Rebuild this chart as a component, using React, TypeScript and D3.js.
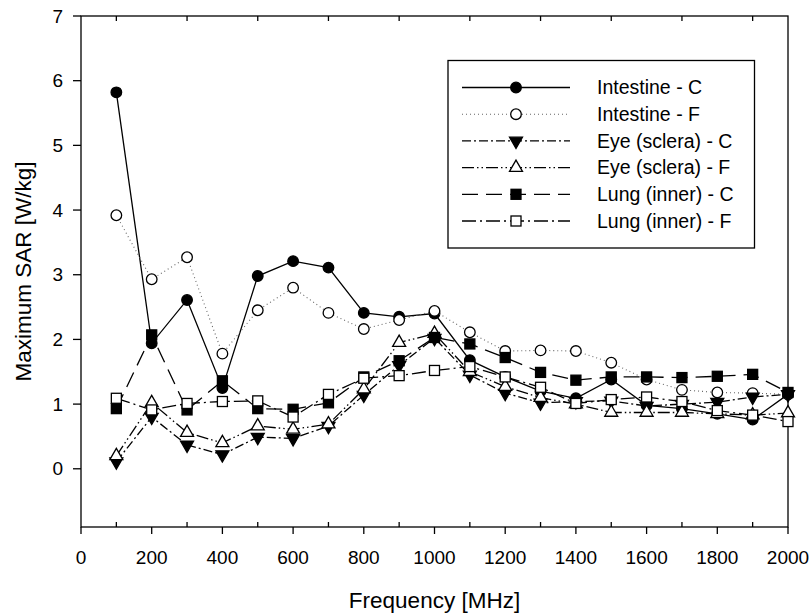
import React from "react";
import * as d3 from "d3";

const freqs = [100, 200, 300, 400, 500, 600, 700, 800, 900, 1000, 1100, 1200, 1300, 1400, 1500, 1600, 1700, 1800, 1900, 2000];

const intestineC = [5.82, 1.94, 2.61, 1.25, 2.98, 3.21, 3.11, 2.41, 2.35, 2.40, 1.68, 1.42, 1.20, 1.09, 1.38, 0.98, 0.93, 0.85, 0.76, 1.15];
const intestineF = [3.92, 2.93, 3.27, 1.78, 2.45, 2.80, 2.41, 2.16, 2.30, 2.44, 2.11, 1.82, 1.83, 1.82, 1.64, 1.38, 1.22, 1.18, 1.17, 1.15];
const eyeC = [0.11, 0.80, 0.37, 0.22, 0.49, 0.47, 0.66, 1.14, 1.60, 2.02, 1.45, 1.17, 1.02, 1.04, 1.05, 0.97, 1.00, 1.03, 1.11, 1.15];
const eyeF = [0.20, 1.02, 0.56, 0.40, 0.66, 0.61, 0.69, 1.23, 1.95, 2.09, 1.50, 1.27, 1.10, 1.00, 0.87, 0.87, 0.87, 0.85, 0.83, 0.86];
const lungC = [0.93, 2.07, 0.91, 1.36, 0.93, 0.92, 1.02, 1.42, 1.67, 2.03, 1.93, 1.72, 1.49, 1.37, 1.42, 1.42, 1.41, 1.43, 1.46, 1.18];
const lungF = [1.09, 0.91, 1.01, 1.04, 1.05, 0.80, 1.15, 1.40, 1.44, 1.52, 1.58, 1.42, 1.26, 1.01, 1.07, 1.11, 1.04, 0.90, 0.83, 0.73];

const seriesNames = ["Intestine - C", "Intestine - F", "Eye (sclera) - C", "Eye (sclera) - F", "Lung (inner) - C", "Lung (inner) - F"];
const seriesValues = [intestineC, intestineF, eyeC, eyeF, lungC, lungF];

const xTicks = [0, 200, 400, 600, 800, 1000, 1200, 1400, 1600, 1800, 2000];
const xMinorTicks = [100, 300, 500, 700, 900, 1100, 1300, 1500, 1700, 1900];
const yTicks = [0, 1, 2, 3, 4, 5, 6, 7];

const styles = [
  { dash: null, width: 1.3, color: "#000", marker: "circle", fill: "#000" },
  { dash: "1,3", width: 1.1, color: "#666", marker: "circle", fill: "#fff" },
  { dash: "9,3,2,3", width: 1.3, color: "#000", marker: "triDown", fill: "#000" },
  { dash: "12,3,1.5,3,1.5,3", width: 1.3, color: "#000", marker: "triUp", fill: "#fff" },
  { dash: "16,8", width: 1.3, color: "#000", marker: "square", fill: "#000" },
  { dash: "14,4,2,4", width: 1.3, color: "#000", marker: "square", fill: "#fff" },
];

const FONT = "Arial, 'Liberation Sans', sans-serif";

function Marker({ type, x, y, fill }: { type: string; x: number; y: number; fill: string }) {
  const sw = 1.3;
  if (type === "circle") return <circle cx={x} cy={y} r={5.3} fill={fill} stroke="#000" strokeWidth={sw} />;
  if (type === "square") return <rect x={x - 5} y={y - 5} width={10} height={10} fill={fill} stroke="#000" strokeWidth={sw} />;
  const s = 6.2;
  const sym = d3.symbol().type(d3.symbolTriangle).size(s * s * 1.9)();
  if (type === "triUp")
    return <path d={sym || ""} transform={`translate(${x},${y})`} fill={fill} stroke="#000" strokeWidth={sw} />;
  return <path d={sym || ""} transform={`translate(${x},${y}) rotate(180)`} fill={fill} stroke="#000" strokeWidth={sw} />;
}

export default function App() {
  const W = 811, H = 616;
  const left = 81, right = 788, top = 16, bottom = 527;
  const x = d3.scaleLinear().domain([0, 2000]).range([left, right]);
  const y = d3.scaleLinear().domain([-0.9, 7]).range([bottom, top]);
  const line = d3.line<number>().x((_, i) => x(freqs[i])).y((v) => y(v));

  const legX = 448, legY = 60.5, legW = 306.5, legH = 187.5;
  const rowY0 = 87.5, rowDy = 26.7;

  return (
    <svg width={W} height={H} style={{ position: "absolute", left: 0, top: 0, background: "#fff" }} fontFamily={FONT}>
      <rect x={0} y={0} width={W} height={H} fill="#fff" />
      {/* frame */}
      <rect x={left} y={top} width={right - left} height={bottom - top} fill="none" stroke="#000" strokeWidth={1.3} />
      {/* y ticks */}
      {yTicks.map((t) => (
        <g key={"y" + t}>
          <line x1={left - 8} x2={left} y1={y(t)} y2={y(t)} stroke="#000" strokeWidth={1.3} />
          <text x={left - 18} y={y(t)} dy="0.35em" textAnchor="end" fontSize={19}>{t}</text>
        </g>
      ))}
      {/* x ticks */}
      {xTicks.map((t) => (
        <g key={"x" + t}>
          <line x1={x(t)} x2={x(t)} y1={bottom} y2={bottom + 7} stroke="#000" strokeWidth={1.3} />
          <text x={x(t)} y={564} textAnchor="middle" fontSize={19}>{t}</text>
        </g>
      ))}
      {xMinorTicks.map((t) => (
        <g key={"xm" + t}>
          <line x1={x(t)} x2={x(t)} y1={bottom} y2={bottom - 5} stroke="#000" strokeWidth={1.3} />
          <line x1={x(t)} x2={x(t)} y1={top} y2={top + 5} stroke="#000" strokeWidth={1.3} />
        </g>
      ))}
      {/* titles */}
      <text x={(left + right) / 2} y={608} textAnchor="middle" fontSize={22.5}>Frequency [MHz]</text>
      <text transform={`translate(31,${(top + bottom) / 2}) rotate(-90)`} textAnchor="middle" fontSize={22.5}>Maximum SAR [W/kg]</text>

      {/* series */}
      {seriesValues.map((vals, si) => {
        const st = styles[si];
        return (
          <g key={"s" + si}>
            <path d={line(vals) || ""} fill="none" stroke={st.color} strokeWidth={st.width} strokeDasharray={st.dash || undefined} />
            {vals.map((v, i) => (
              <Marker key={i} type={st.marker} x={x(freqs[i])} y={y(v)} fill={st.fill} />
            ))}
          </g>
        );
      })}

      {/* legend */}
      <rect x={legX} y={legY} width={legW} height={legH} fill="#fff" stroke="#000" strokeWidth={1.3} />
      {seriesNames.map((name, i) => {
        const st = styles[i];
        const ry = rowY0 + i * rowDy;
        return (
          <g key={"l" + i}>
            <line x1={462} x2={570} y1={ry} y2={ry} stroke={st.color} strokeWidth={st.width} strokeDasharray={st.dash || undefined} />
            <Marker type={st.marker} x={516} y={ry} fill={st.fill} />
            <text x={597} y={ry} dy="0.35em" fontSize={19.5}>{name}</text>
          </g>
        );
      })}
    </svg>
  );
}
